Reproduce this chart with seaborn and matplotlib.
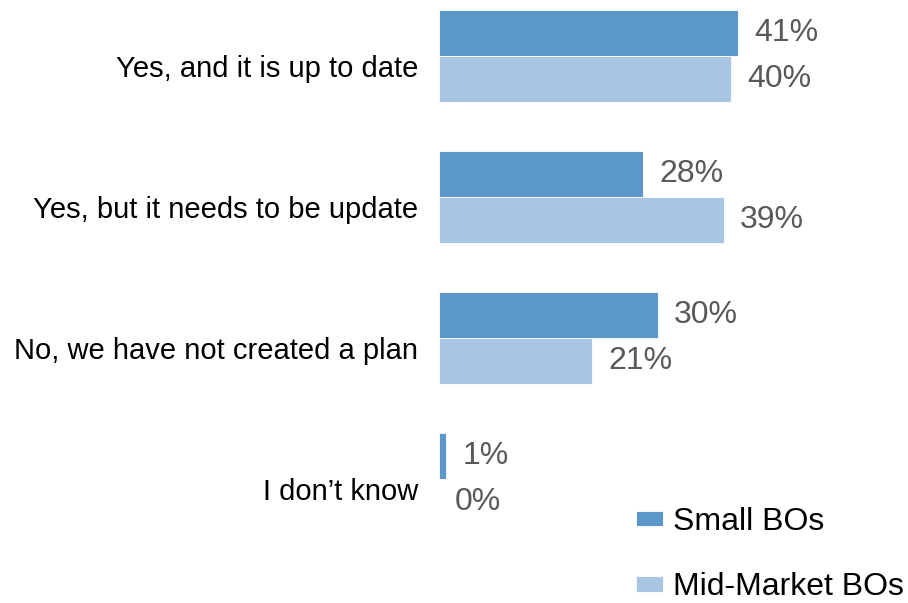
import matplotlib
matplotlib.use("Agg")
import matplotlib.pyplot as plt
import matplotlib.transforms as mtransforms
import seaborn as sns
import pandas as pd

categories = [
    "Yes, and it is up to date",
    "Yes, but it needs to be update",
    "No, we have not created a plan",
    "I don\u2019t know",
]
series_names = ["Small BOs", "Mid-Market BOs"]
small_bos = [41, 28, 30, 1]
mid_market_bos = [40, 39, 21, 0]
colors = ["#5B97C9", "#A8C6E3"]

df = pd.DataFrame({
    "category": categories * 2,
    "group": [series_names[0]] * len(categories) + [series_names[1]] * len(categories),
    "value": small_bos + mid_market_bos,
})

sns.set_theme(style="white")
plt.rcParams["font.family"] = ["Liberation Sans", "DejaVu Sans"]

W, H = 908, 603
fig = plt.figure(figsize=(W / 100, H / 100), dpi=100)
ax = fig.add_axes([439 / W, 0, (906 - 439) / W, 1])

sns.barplot(
    data=df, y="category", x="value", hue="group",
    order=categories, hue_order=series_names,
    palette=colors, orient="h", width=0.65,
    saturation=1, edgecolor="white", linewidth=0.6,
    errorbar=None, ax=ax, legend=True,
)

ax.set_xlim(0, 64)
ax.set_ylim(3.879, -0.397)
ax.set_xlabel("")
ax.set_ylabel("")
ax.set_xticks([])
for s in ax.spines.values():
    s.set_visible(False)

ax.tick_params(axis="y", length=0, pad=15, labelsize=21, labelcolor="black")
offset = mtransforms.ScaledTranslation(0, -10 / 100, fig.dpi_scale_trans)
for lbl in ax.get_yticklabels():
    lbl.set_transform(lbl.get_transform() + offset)

for cont in ax.containers:
    ax.bar_label(cont, labels=[f"{v:.0f}%" for v in cont.datavalues],
                 padding=11.5, fontsize=23, color="#595959")

handles, labels = ax.get_legend_handles_labels()
ax.get_legend().remove()
fig.legend(
    handles, labels, loc="upper left",
    bbox_to_anchor=(636 / W, 1 - 507 / H),
    frameon=False, fontsize=23, handlelength=0.85, handleheight=0.38,
    handletextpad=0.3, labelspacing=1.1, borderpad=0, borderaxespad=0,
    labelcolor="black",
)

fig.savefig("out.png", dpi=100)
